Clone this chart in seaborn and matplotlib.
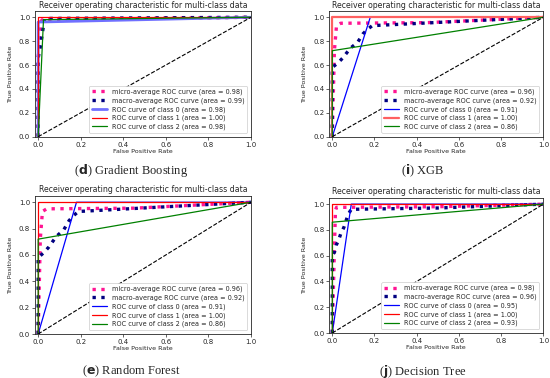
import matplotlib
matplotlib.use("Agg")
import matplotlib.pyplot as plt
import seaborn as sns

TITLE = "Receiver operating characteristic for multi-class data"
CURVE_NAMES = ["micro-average ROC curve", "macro-average ROC curve",
               "ROC curve of class 0", "ROC curve of class 1", "ROC curve of class 2"]
TICKS = [0.0, 0.2, 0.4, 0.6, 0.8, 1.0]
CHANCE = [0.0, 1.0]

# (d) Gradient Boosting
gb_micro_fpr = [0.0, 0.0, 0.01, 0.02, 0.5, 1.0]
gb_micro_tpr = [0.0, 0.66, 0.96, 0.98, 0.99, 1.0]
gb_macro_fpr = [0.0, 0.0, 0.01, 0.02, 0.03, 1.0]
gb_macro_tpr = [0.0, 0.66, 0.75, 0.87, 0.99, 1.0]
gb_c0_fpr = [0.0, 0.0, 1.0]
gb_c0_tpr = [0.0, 0.96, 1.0]
gb_c1_fpr = [0.0, 0.0, 1.0]
gb_c1_tpr = [0.0, 1.0, 1.0]
gb_c2_fpr = [0.0, 0.025, 1.0]
gb_c2_tpr = [0.0, 0.98, 1.0]
gb_auc = [0.98, 0.99, 0.98, 1.00, 0.98]

# (i) XGB
xgb_micro_fpr = [0.0, 0.01, 0.02, 0.04, 0.45, 1.0]
xgb_micro_tpr = [0.0, 0.72, 0.93, 0.95, 0.955, 1.0]
xgb_macro_fpr = [0.0, 0.0, 0.028, 0.05, 0.085, 0.12, 0.145, 0.167, 0.19, 1.0]
xgb_macro_tpr = [0.0, 0.58, 0.62, 0.66, 0.74, 0.79, 0.86, 0.90, 0.93, 1.0]
xgb_c0_fpr = [0.0, 0.18, 1.0]
xgb_c0_tpr = [0.0, 1.0, 1.0]
xgb_c1_fpr = [0.0, 0.0, 1.0]
xgb_c1_tpr = [0.0, 1.0, 1.0]
xgb_c2_fpr = [0.0, 0.0, 1.0]
xgb_c2_tpr = [0.0, 0.72, 1.0]
xgb_auc = [0.96, 0.92, 0.91, 1.00, 0.86]

# (e) Random Forest
rf_micro_fpr = [0.0, 0.01, 0.02, 0.04, 0.45, 1.0]
rf_micro_tpr = [0.0, 0.72, 0.93, 0.95, 0.955, 1.0]
rf_macro_fpr = [0.0, 0.0, 0.028, 0.05, 0.085, 0.12, 0.145, 0.167, 0.19, 1.0]
rf_macro_tpr = [0.0, 0.58, 0.62, 0.66, 0.74, 0.79, 0.86, 0.90, 0.93, 1.0]
rf_c0_fpr = [0.0, 0.18, 1.0]
rf_c0_tpr = [0.0, 1.0, 1.0]
rf_c1_fpr = [0.0, 0.0, 1.0]
rf_c1_tpr = [0.0, 1.0, 1.0]
rf_c2_fpr = [0.0, 0.0, 1.0]
rf_c2_tpr = [0.0, 0.72, 1.0]
rf_auc = [0.96, 0.92, 0.91, 1.00, 0.86]

# (j) Decision Tree
dt_micro_fpr = [0.0, 0.01, 0.015, 0.02, 0.5, 1.0]
dt_micro_tpr = [0.0, 0.65, 0.95, 0.975, 0.98, 1.0]
dt_macro_fpr = [0.0, 0.0, 0.011, 0.018, 0.03, 0.04, 0.055, 0.065, 0.075, 0.09, 0.5, 1.0]
dt_macro_tpr = [0.0, 0.6, 0.63, 0.68, 0.72, 0.77, 0.82, 0.87, 0.92, 0.96, 0.97, 1.0]
dt_c0_fpr = [0.0, 0.09, 1.0]
dt_c0_tpr = [0.0, 1.0, 1.0]
dt_c1_fpr = [0.0, 0.0, 1.0]
dt_c1_tpr = [0.0, 1.0, 1.0]
dt_c2_fpr = [0.0, 0.0, 1.0]
dt_c2_tpr = [0.0, 0.86, 1.0]
dt_auc = [0.98, 0.96, 0.95, 1.00, 0.93]

# line styles: micro, macro, class 0, class 1, class 2
BASE_STYLES = [
    dict(color="deeppink", linestyle=":", lw=2.4),
    dict(color="navy", linestyle=":", lw=2.4),
    dict(color="blue", linestyle="-", lw=0.9),
    dict(color="red", linestyle="-", lw=0.9),
    dict(color="green", linestyle="-", lw=0.9),
]


def draw_panel(ax, curves, aucs, overrides=None):
    styles = [dict(s) for s in BASE_STYLES]
    for idx, extra in (overrides or {}).items():
        styles[idx].update(extra)
    for (fpr, tpr), name, auc, st in zip(curves, CURVE_NAMES, aucs, styles):
        sns.lineplot(x=fpr, y=tpr, sort=False, estimator=None, ax=ax,
                     label=f"{name} (area = {auc:.2f})", **st)
    sns.lineplot(x=CHANCE, y=CHANCE, sort=False, estimator=None, ax=ax,
                 color="black", linestyle="--", lw=0.8)
    ax.set_xlim(-0.015, 1.0)
    ax.set_ylim(0.0, 1.05)
    ax.set_xticks(TICKS)
    ax.set_yticks(TICKS)
    ax.set_xlabel("False Positive Rate", fontsize=4.6, labelpad=1)
    ax.set_ylabel("True Positive Rate", fontsize=4.6, labelpad=4)
    ax.set_title(TITLE, fontsize=5.6, pad=2.5)
    ax.tick_params(labelsize=5, length=2, width=0.5, pad=1.5)
    for sp in ax.spines.values():
        sp.set_linewidth(0.6)
    leg = ax.legend(loc="lower right", fontsize=4.7, handlelength=2.3,
                    borderaxespad=0.6, labelspacing=0.35, framealpha=1)
    leg.get_frame().set_linewidth(0.5)


sns.set_theme(style="ticks")
plt.rcParams["font.family"] = ["DejaVu Sans"]

fig = plt.figure(figsize=(5.5, 3.78), dpi=100)
ax_gb = fig.add_axes([0.0636, 0.6384, 0.3927, 0.3317])
ax_xgb = fig.add_axes([0.5984, 0.6384, 0.3895, 0.3317])
ax_rf = fig.add_axes([0.0636, 0.1164, 0.3927, 0.366])
ax_dt = fig.add_axes([0.5984, 0.119, 0.3895, 0.358])

draw_panel(ax_gb, [(gb_micro_fpr, gb_micro_tpr), (gb_macro_fpr, gb_macro_tpr),
                   (gb_c0_fpr, gb_c0_tpr), (gb_c1_fpr, gb_c1_tpr), (gb_c2_fpr, gb_c2_tpr)],
           gb_auc, {2: dict(color="#7070ff", lw=2.0)})
draw_panel(ax_xgb, [(xgb_micro_fpr, xgb_micro_tpr), (xgb_macro_fpr, xgb_macro_tpr),
                    (xgb_c0_fpr, xgb_c0_tpr), (xgb_c1_fpr, xgb_c1_tpr), (xgb_c2_fpr, xgb_c2_tpr)],
           xgb_auc, {3: dict(color="#ff6060", lw=1.6)})
draw_panel(ax_rf, [(rf_micro_fpr, rf_micro_tpr), (rf_macro_fpr, rf_macro_tpr),
                   (rf_c0_fpr, rf_c0_tpr), (rf_c1_fpr, rf_c1_tpr), (rf_c2_fpr, rf_c2_tpr)],
           rf_auc)
draw_panel(ax_dt, [(dt_micro_fpr, dt_micro_tpr), (dt_macro_fpr, dt_macro_tpr),
                   (dt_c0_fpr, dt_c0_tpr), (dt_c1_fpr, dt_c1_tpr), (dt_c2_fpr, dt_c2_tpr)],
           dt_auc)

# captions under each panel
cap_font = ["Liberation Serif", "DejaVu Serif"]
captions = [(131, 171, "d", " Gradient Boosting"), (423, 171, "i", " XGB"),
            (131, 371, "e", " Random Forest"), (423, 371, "j", " Decision Tree")]
for cx, cy, letter, text in captions:
    fig.text(cx / 550, 1 - cy / 378, rf"($\mathbf{{{letter}}}$){text}",
             ha="center", va="center", fontsize=9, family=cap_font)

fig.savefig("out.png", dpi=100)
